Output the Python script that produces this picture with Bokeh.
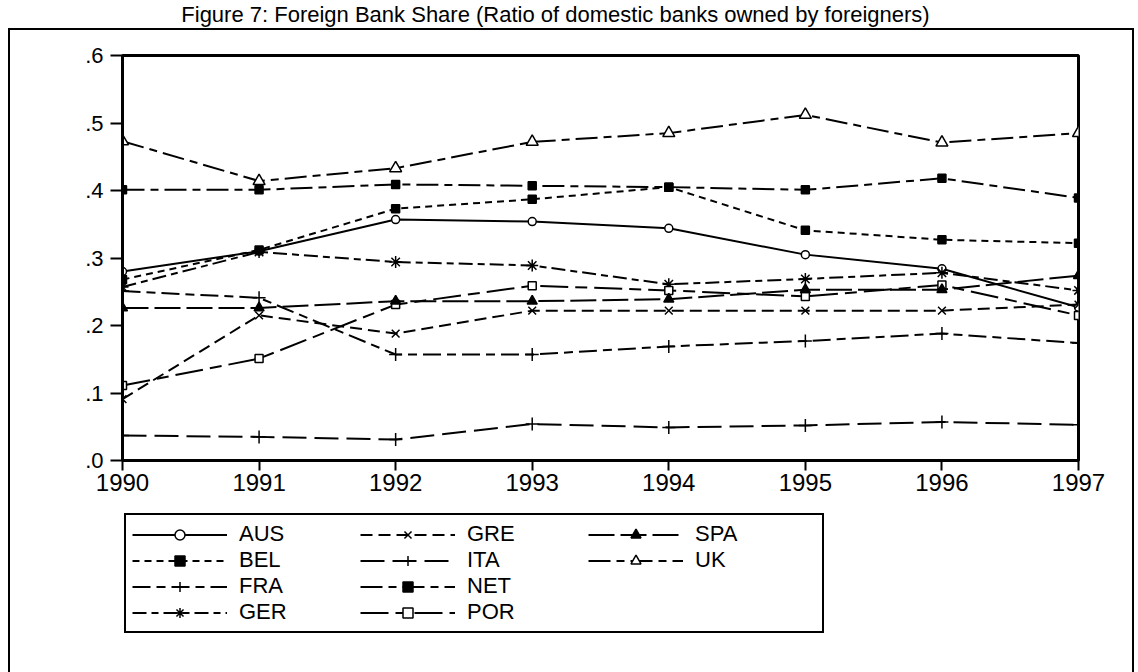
from bokeh.plotting import figure
from bokeh.models import Range1d, FixedTicker, Legend, LegendItem, Label
from bokeh.layouts import column
from bokeh.embed import file_html
from bokeh.resources import INLINE

# ---- data ----
years = [1990, 1991, 1992, 1993, 1994, 1995, 1996, 1997]
AUS = [0.280, 0.310, 0.357, 0.354, 0.344, 0.305, 0.284, 0.227]
BEL = [0.268, 0.312, 0.373, 0.387, 0.405, 0.341, 0.327, 0.322]
FRA = [0.251, 0.241, 0.157, 0.157, 0.169, 0.177, 0.188, 0.174]
GER = [0.257, 0.309, 0.294, 0.289, 0.261, 0.269, 0.278, 0.252]
GRE = [0.091, 0.215, 0.188, 0.222, 0.222, 0.222, 0.222, 0.231]
ITA = [0.037, 0.035, 0.031, 0.054, 0.049, 0.052, 0.057, 0.053]
NET = [0.401, 0.401, 0.409, 0.407, 0.405, 0.401, 0.418, 0.389]
POR = [0.111, 0.151, 0.231, 0.259, 0.252, 0.243, 0.260, 0.215]
SPA = [0.226, 0.226, 0.236, 0.236, 0.239, 0.253, 0.253, 0.274]
UK = [0.473, 0.414, 0.433, 0.472, 0.485, 0.512, 0.471, 0.485]

y_ticks = [0.0, 0.1, 0.2, 0.3, 0.4, 0.5, 0.6]
y_tick_labels = [".0", ".1", ".2", ".3", ".4", ".5", ".6"]
title_text = "Figure 7: Foreign Bank Share (Ratio of domestic banks owned by foreigners)"

series = {
    "AUS": AUS, "BEL": BEL, "FRA": FRA, "GER": GER, "GRE": GRE,
    "ITA": ITA, "NET": NET, "POR": POR, "SPA": SPA, "UK": UK,
}

# style: dash, marker, size, fill
styles = {
    "AUS": ("solid", "circle", 8, "white"),
    "BEL": ("7 5", "square", 8, "black"),
    "FRA": ("18 6 9 6", "cross", 13, "black"),
    "GER": ("14 5 7 5", "asterisk", 12, "black"),
    "GRE": ("12 6", "x", 11, "black"),
    "ITA": ("24 8", "cross", 13, "black"),
    "NET": ("22 6 8 6", "square", 8, "black"),
    "POR": ("28 7 12 7", "square", 8, "white"),
    "SPA": ("26 6", "triangle", 10, "black"),
    "UK": ("22 6 8 6", "triangle", 12, "white"),
}

FONT = "Liberation Sans"


def bare(fig):
    fig.border_fill_alpha = 0
    fig.background_fill_alpha = 0
    fig.outline_line_color = None
    fig.xgrid.visible = False
    fig.ygrid.visible = False


# ---- title strip ----
head = figure(width=1138, height=28, output_backend="svg", toolbar_location=None,
              x_axis_type=None, y_axis_type=None,
              min_border_left=0, min_border_right=0, min_border_top=0,
              min_border_bottom=0)
bare(head)
head.add_layout(Label(x=433, y=14, x_units="screen", y_units="screen",
                      text=title_text, text_font=FONT, text_font_size="22px",
                      text_align="center", text_baseline="alphabetic",
                      text_color="black"))

# ---- main chart ----
p = figure(width=1138, height=477, output_backend="svg", toolbar_location=None,
           x_range=Range1d(1990, 1997), y_range=Range1d(0, 0.6),
           min_border_left=122, min_border_right=60, min_border_top=27,
           min_border_bottom=45)
p.border_fill_alpha = 0
p.background_fill_color = "white"
p.xgrid.visible = False
p.ygrid.visible = False
p.outline_line_color = "black"
p.outline_line_width = 3
p.outline_line_alpha = 1.0

p.yaxis.ticker = FixedTicker(ticks=y_ticks)
p.yaxis.major_label_overrides = {t: l for t, l in zip(y_ticks, y_tick_labels)}
p.yaxis.minor_tick_line_color = None
p.yaxis.major_tick_out = 12
p.yaxis.major_tick_in = 0
p.yaxis.major_tick_line_width = 2
p.yaxis.axis_line_width = 3
p.yaxis.major_label_standoff = 7
p.yaxis.major_label_text_font = FONT
p.yaxis.major_label_text_font_size = "22px"
p.yaxis.major_label_text_color = "black"

p.xaxis.ticker = FixedTicker(ticks=years)
p.xaxis.minor_tick_line_color = None
p.xaxis.major_tick_out = 10
p.xaxis.major_tick_in = 0
p.xaxis.major_tick_line_width = 2
p.xaxis.axis_line_width = 3
p.xaxis.major_label_standoff = 3
p.xaxis.major_label_text_font = FONT
p.xaxis.major_label_text_font_size = "24px"
p.xaxis.major_label_text_color = "black"

for name, vals in series.items():
    dash, marker, size, fill = styles[name]
    p.line(years, vals, line_color="black", line_width=2, line_dash=dash)
    p.scatter(years, vals, marker=marker, size=size, line_color="black",
              fill_color=fill, line_width=1.5)

# ---- legend strip: key glyphs use the series data, kept outside this strip's ranges ----
lg = figure(width=1138, height=167, output_backend="svg", toolbar_location=None,
            x_axis_type=None, y_axis_type=None,
            x_range=Range1d(0, 1), y_range=Range1d(0, 1),
            min_border_left=0, min_border_right=0, min_border_top=0,
            min_border_bottom=0)
bare(lg)

items = []
for name, vals in series.items():
    dash, marker, size, fill = styles[name]
    lr = lg.line(years, vals, line_color="black", line_width=2, line_dash=dash)
    sr = lg.scatter(years, vals, marker=marker, size=size * 0.75, line_color="black",
                    fill_color=fill, line_width=1.5)
    items.append(LegendItem(label=name, renderers=[lr, sr]))

legend = Legend(items=items, location=(2, 39), orientation="vertical", nrows=4,
                glyph_width=95, glyph_height=25, label_height=25, label_width=121,
                label_standoff=12, spacing=0, padding=6, margin=0,
                label_text_font=FONT, label_text_font_size="22px",
                label_text_color="black",
                border_line_color="black", border_line_width=2,
                border_line_alpha=1.0,
                background_fill_color="white", background_fill_alpha=1.0)
lg.add_layout(legend, "center")

frame_css = ("linear-gradient(#000,#000) 8px 28px / 2px 700px no-repeat, "
             "linear-gradient(#000,#000) 8px 28px / 1126px 2px no-repeat, "
             "linear-gradient(#000,#000) 1132px 28px / 2px 700px no-repeat")

page = column(head, p, lg, spacing=0, styles={"background": frame_css})
open("out.html", "w").write(file_html(page, INLINE))
